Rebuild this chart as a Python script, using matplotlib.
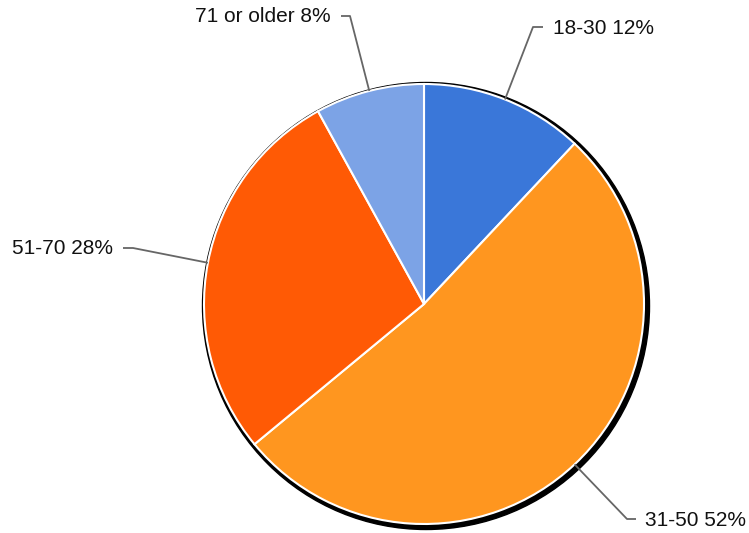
import numpy as np
import matplotlib.pyplot as plt
from matplotlib.patches import Circle

plt.rcParams['font.family'] = ['Liberation Sans', 'DejaVu Sans']

# Data
labels = ['18-30', '31-50', '51-70', '71 or older']
shares = [12, 52, 28, 8]
colors = ['#3a77d9', '#ff961f', '#ff5a05', '#7ca3e6']

# pixel-space layout (y measured from the top of the image)
W, H = 749, 533
cx, cy, r = 424, 304, 220

fig = plt.figure(figsize=(W / 100, H / 100), dpi=100)
ax = fig.add_axes([0, 0, 1, 1])

# shadow / outline behind the pie
ax.add_patch(Circle((cx + 2, H - cy - 2), r + 3.5, color='black', zorder=1))

ax.pie(shares, colors=colors, startangle=90, counterclock=False,
       center=(cx, H - cy), radius=r, frame=True,
       wedgeprops=dict(edgecolor='white', linewidth=1.5, zorder=2))
ax.set_xlim(0, W)
ax.set_ylim(0, H)
ax.axis('off')

# leader line elbows and text anchors: (elbow x, elbow y, end x, text x, ha)
label_pos = [
    (533, 27, 543, 553, 'left'),
    (627, 519, 636, 645, 'left'),
    (133, 248, 123, 113, 'right'),
    (350, 16, 341, 331, 'right'),
]

cum = np.cumsum([0] + shares[:-1])
for lab, s, c0, (ex, ey, tx, txt_x, ha) in zip(labels, shares, cum, label_pos):
    ang = np.deg2rad((c0 + s / 2) / 100 * 360)
    sx = cx + r * np.sin(ang)
    sy = cy - r * np.cos(ang)
    ax.plot([sx, ex, tx], [H - sy, H - ey, H - ey], color='#666666', lw=1.3,
            solid_capstyle='butt', zorder=3)
    ax.text(txt_x, H - ey - 1, f'{lab} {s}%', ha=ha, va='center',
            fontsize=15, color='#111111')

fig.savefig('out.png', dpi=100)
